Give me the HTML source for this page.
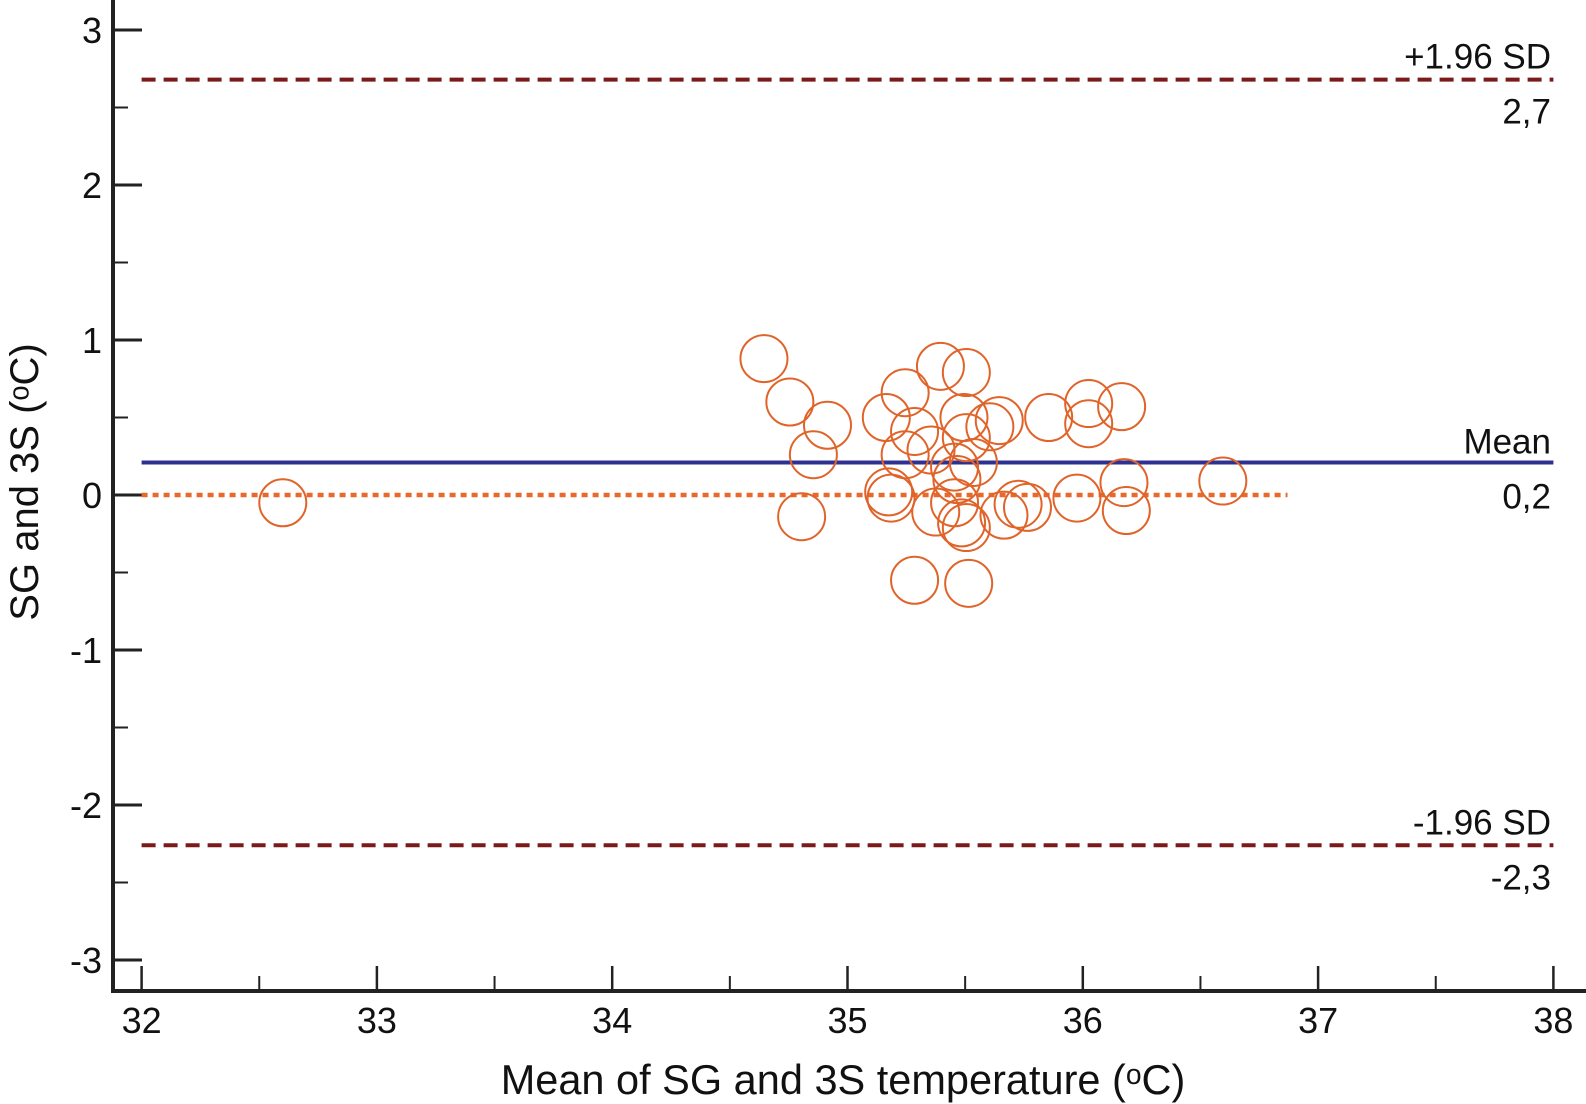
<!DOCTYPE html>
<html><head><meta charset="utf-8"><style>
html,body{margin:0;padding:0;background:#fff;}
svg{display:block;font-family:"Liberation Sans",Arial,sans-serif;}
</style></head><body>
<svg id="chart" width="1586" height="1104" viewBox="0 0 1586 1104" xmlns="http://www.w3.org/2000/svg">
<g id="axes"></g>
<g id="lines"></g>
<g id="points"></g>
<g id="labels"></g>
</svg>
<script>
const xTicks = [32,33,34,35,36,37,38];
const yTicks = [-3,-2,-1,0,1,2,3];
const xVals = [32.60,34.645,34.755,34.915,34.855,34.805,35.245,35.395,35.505,35.165,35.285,35.245,35.355,35.495,35.505,35.645,35.605,35.455,35.535,35.465,35.175,35.185,35.375,35.455,35.485,35.505,35.665,35.725,35.765,35.855,36.025,36.025,36.165,35.975,36.175,36.185,36.595,35.285,35.515];
const yVals = [-0.05,0.88,0.60,0.45,0.26,-0.14,0.66,0.83,0.79,0.50,0.41,0.26,0.29,0.50,0.37,0.48,0.44,0.18,0.21,0.10,0.02,-0.02,-0.11,-0.05,-0.18,-0.21,-0.13,-0.06,-0.08,0.50,0.59,0.46,0.57,-0.02,0.08,-0.10,0.09,-0.55,-0.57];
const meanVal = 0.21;
const upperVal = 2.68;
const lowerVal = -2.26;
const meanLabel = "0,2", upperLabel = "2,7", lowerLabel = "-2,3";

const NS = "http://www.w3.org/2000/svg";
const X = v => 141.6 + (v - 32) * 235.3;
const Y = v => 495 - v * 155;
function mk(tag, attrs, parent, text) {
  const e = document.createElementNS(NS, tag);
  for (const k in attrs) e.setAttribute(k, attrs[k]);
  if (text !== undefined) e.textContent = text;
  parent.appendChild(e);
  return e;
}
const axes = document.getElementById('axes');
const lines = document.getElementById('lines');
const pts = document.getElementById('points');
const labels = document.getElementById('labels');

let el = mk('line', {x1:113, y1:0, x2:113, y2:993, stroke:'#222', 'stroke-width':4}, axes);


el = mk('line', {x1:111, y1:991, x2:1586, y2:991, stroke:'#222', 'stroke-width':4}, axes);



yTicks.forEach(t => {
  const e = mk('line', {x1:113, y1:Y(t), x2:142, y2:Y(t), stroke:'#222', 'stroke-width':3}, axes);
  
  
  const lb = mk('text', {x:102, y:Y(t)+13, 'text-anchor':'end', 'font-size':36, fill:'#111'}, axes, String(t));
  
  
  if (t < 3) {
    const m = mk('line', {x1:113, y1:Y(t+0.5), x2:128, y2:Y(t+0.5), stroke:'#222', 'stroke-width':2}, axes);
    
    
  }
});
xTicks.forEach(t => {
  const e = mk('line', {x1:X(t), y1:991, x2:X(t), y2:966, stroke:'#222', 'stroke-width':2.5}, axes);
  
  
  const lb = mk('text', {x:X(t), y:1033, 'text-anchor':'middle', 'font-size':36, fill:'#111'}, axes, String(t));
  
  
  if (t < 38) {
    const m = mk('line', {x1:X(t+0.5), y1:991, x2:X(t+0.5), y2:976, stroke:'#222', 'stroke-width':2}, axes);
    
    
  }
});

el = mk('line', {x1:X(32.0), y1:Y(upperVal), x2:X(38), y2:Y(upperVal), stroke:'#7a1a1a', 'stroke-width':4, 'stroke-dasharray':'14 8'}, lines);


el = mk('line', {x1:X(32.0), y1:Y(lowerVal), x2:X(38), y2:Y(lowerVal), stroke:'#7a1a1a', 'stroke-width':4, 'stroke-dasharray':'14 8'}, lines);


el = mk('line', {x1:X(32.0), y1:Y(meanVal), x2:X(38), y2:Y(meanVal), stroke:'#2e3192', 'stroke-width':4}, lines);


el = mk('line', {x1:X(32.0), y1:Y(0), x2:X(36.87), y2:Y(0), stroke:'#e8692c', 'stroke-width':4.5, 'stroke-dasharray':'6 5'}, lines);



xVals.forEach((xv, i) => {
  const c = mk('circle', {cx:X(xv), cy:Y(yVals[i]), r:23.5, fill:'none', stroke:'#e0642a', 'stroke-width':2}, pts);
  
  
});

function lab(txt, y, name) {
  const t = mk('text', {x:1551, y:y, 'text-anchor':'end', 'font-size':35, fill:'#111'}, labels, txt);
  
  
}
lab('+1.96 SD', Y(upperVal)-11, 'upper-limit-label');
lab(upperLabel, Y(upperVal)+44, 'upper-limit-value');
lab('Mean', Y(meanVal)-9, 'mean-label');
lab(meanLabel, Y(meanVal)+46, 'mean-value');
lab('-1.96 SD', Y(lowerVal)-11, 'lower-limit-label');
lab(lowerLabel, Y(lowerVal)+44, 'lower-limit-value');

el = mk('text', {x:843, y:1094, 'text-anchor':'middle', 'font-size':41.5, fill:'#111'}, labels, 'Mean of SG and 3S temperature (\u1D52C)');


el = mk('text', {x:0, y:0, 'text-anchor':'middle', 'font-size':40, fill:'#111', transform:'translate(38,482) rotate(-90)'}, labels, 'SG and 3S (\u1D52C)');


</script>
</body></html>
